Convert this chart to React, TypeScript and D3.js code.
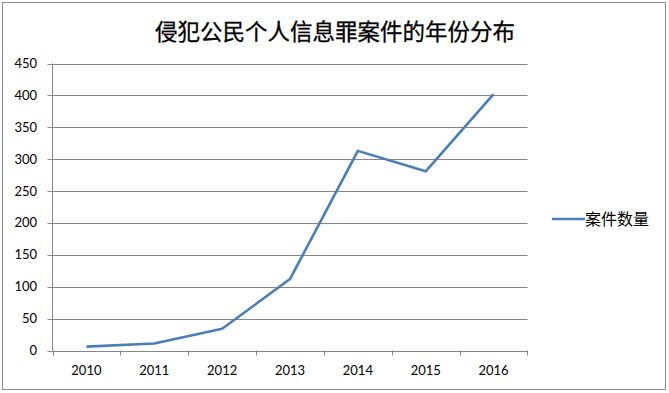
import React from "react";
import * as d3 from "d3";

const years = ["2010", "2011", "2012", "2013", "2014", "2015", "2016"];
const caseCounts = [6, 11, 34, 112, 313, 281, 402];
const yTicks = [0, 50, 100, 150, 200, 250, 300, 350, 400, 450];
const title = "侵犯公民个人信息罪案件的年份分布";
const seriesName = "案件数量";

export default function App() {
  const W = 669, H = 393;
  const left = 52.5, right = 527.5, top = 63.5, bottom = 350.5;
  const x = d3.scaleBand<string>().domain(years).range([left, right]);
  const y = d3.scaleLinear().domain([0, 450]).range([bottom, top]);
  const line = d3
    .line<number>()
    .x((_, i) => (x(years[i]) as number) + x.bandwidth() / 2)
    .y((d) => y(d));
  const grid = "#868686";
  const blue = "#4a7ebb";
  const numFont = "Lato, 'Open Sans', sans-serif";
  const cjk = "'Noto Sans CJK SC', sans-serif";
  return (
    <svg width={W} height={H} style={{ position: "absolute", left: 0, top: 0 }}>
      <rect x={0} y={0} width={W} height={H} fill="#fff" />
      <rect x={2.5} y={2.5} width={663} height={387} fill="none" stroke="#8c8c8c" strokeWidth={1} />
      <text x={335} y={40} textAnchor="middle" fontFamily={cjk} fontSize={22.5} fill="#000" stroke="#000" strokeWidth={0.3}>
        {title}
      </text>
      {yTicks.map((t) => (
        <g key={t}>
          <line x1={left - 5} x2={right} y1={Math.round(y(t)) + 0.5} y2={Math.round(y(t)) + 0.5} stroke={grid} strokeWidth={1} />
          <text x={37} y={y(t)} dy="0.35em" textAnchor="end" fontFamily={numFont} fontSize={13} fill="#000">
            {t}
          </text>
        </g>
      ))}
      <line x1={left} x2={left} y1={top} y2={bottom} stroke={grid} strokeWidth={1} />
      {years.map((yr) => (
        <line key={"t" + yr} x1={Math.round(x(yr) as number) + 0.5} x2={Math.round(x(yr) as number) + 0.5} y1={bottom} y2={bottom + 5} stroke={grid} strokeWidth={1} />
      ))}
      <line x1={right} x2={right} y1={bottom} y2={bottom + 5} stroke={grid} strokeWidth={1} />
      {years.map((yr) => (
        <text key={"l" + yr} x={(x(yr) as number) + x.bandwidth() / 2} y={375} textAnchor="middle" fontFamily={numFont} fontSize={13} fill="#000">
          {yr}
        </text>
      ))}
      <path d={line(caseCounts) || ""} fill="none" stroke={blue} strokeWidth={2.6} strokeLinejoin="round" />
      <line x1={552} x2={585} y1={219} y2={219} stroke={blue} strokeWidth={2.6} />
      <text x={585} y={219} dy="0.35em" fontFamily={cjk} fontSize={16} fill="#000">
        {seriesName}
      </text>
    </svg>
  );
}
